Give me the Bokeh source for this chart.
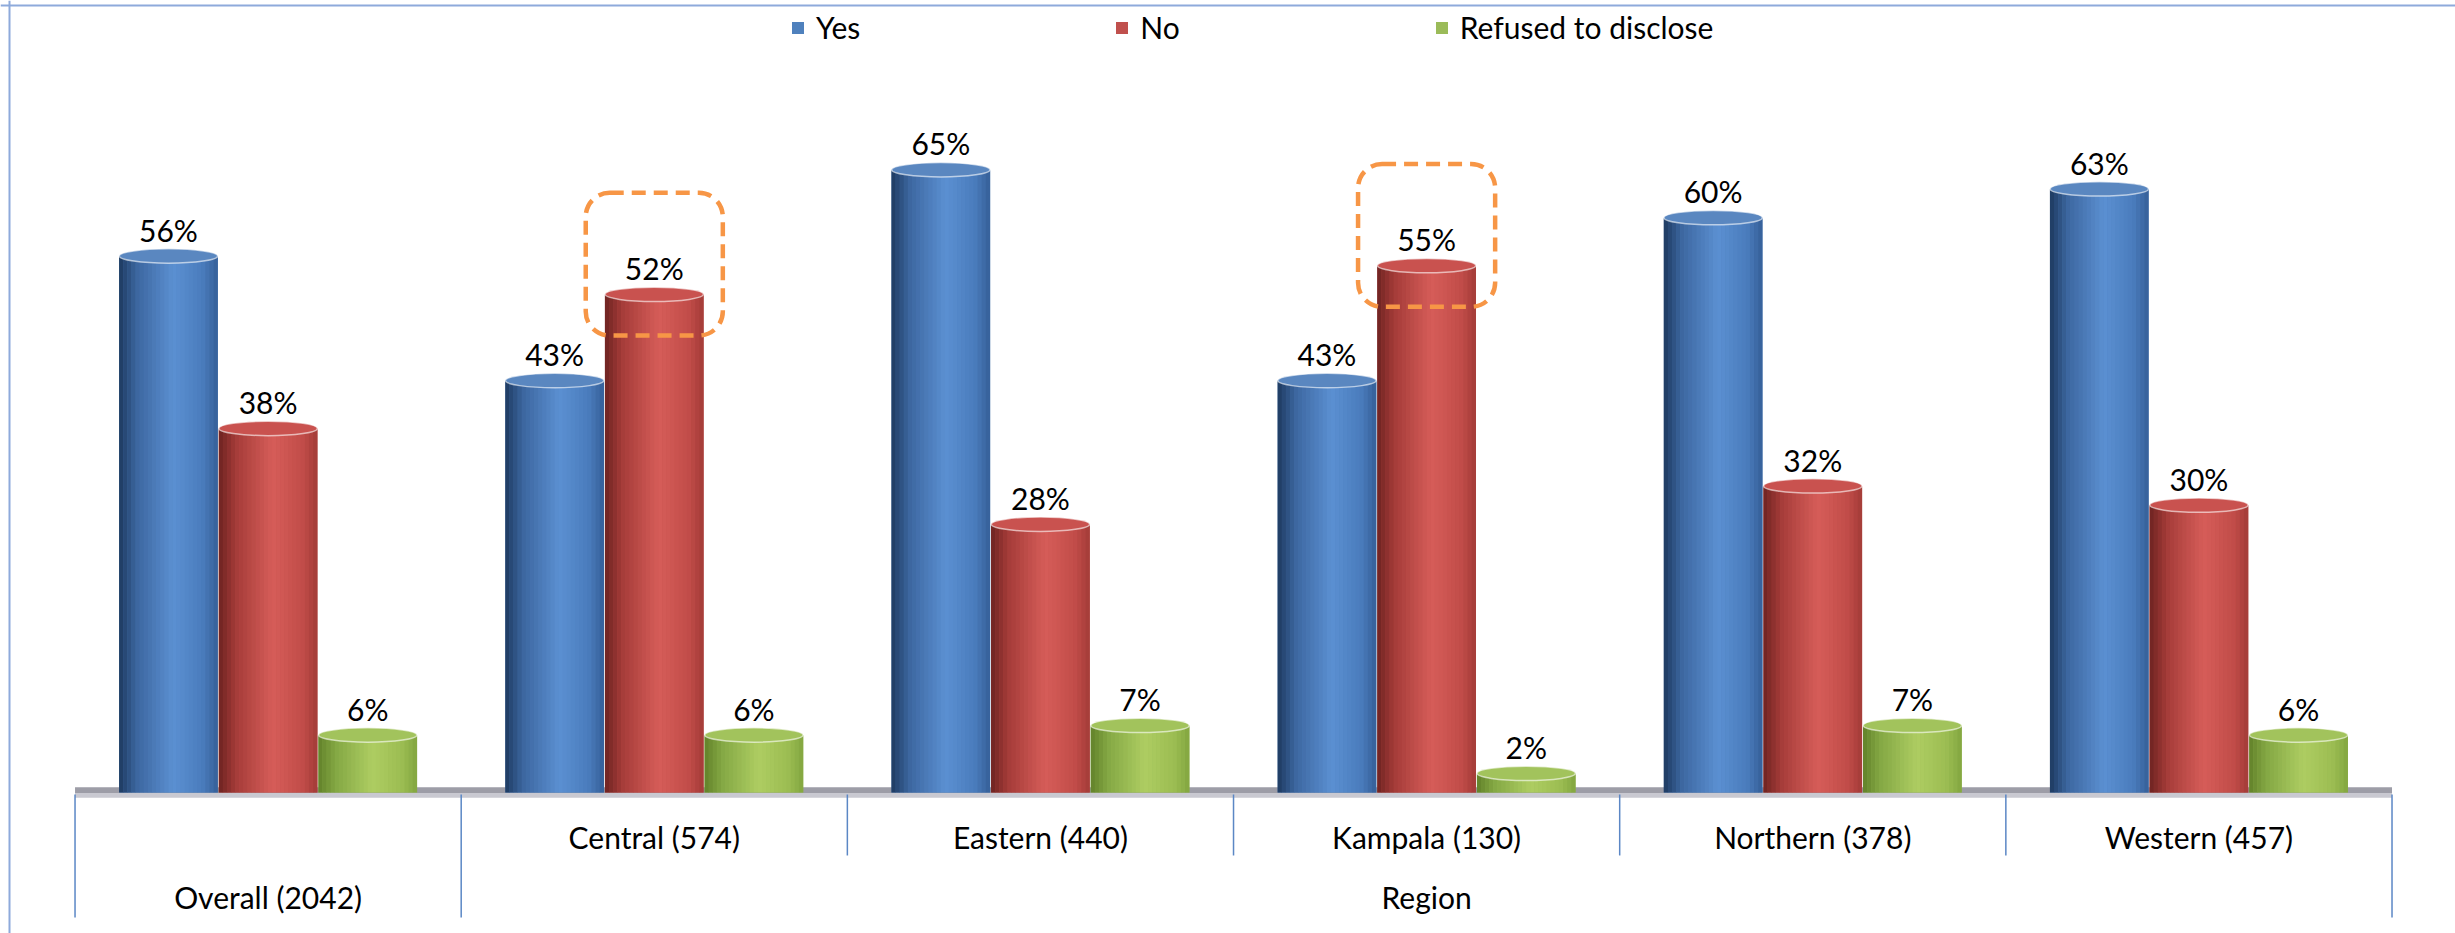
import numpy as np
from bokeh.plotting import figure
from bokeh.models import ColumnDataSource, Legend, LegendItem, Span, Range1d
from bokeh.core.properties import value
from bokeh.embed import file_html
from bokeh.resources import INLINE

# ---------------- data ----------------
overall_label = "Overall (2042)"
region_labels = ["Central (574)", "Eastern (440)", "Kampala (130)", "Northern (378)", "Western (457)"]
categories = [overall_label] + region_labels
groups = [("Overall (2042)", 1), ("Region", 5)]
series_names = ["Yes", "No", "Refused to disclose"]
yes = [56, 43, 65, 43, 60, 63]
no = [38, 52, 28, 55, 32, 30]
refused = [6, 6, 7, 2, 7, 6]

# ---------------- style ----------------
FONT = "Lato"
FS = "30px"
base_colors = ["#4f81bd", "#c0504d", "#9bbb59"]
grad_stops = [
    [(0.0, "#1e3a60"), (0.18, "#3c669f"), (0.55, "#5b90d2"), (0.85, "#4a7cbc"), (1.0, "#355f98")],
    [(0.0, "#6e2321"), (0.18, "#a53c39"), (0.55, "#d65d59"), (0.85, "#c24d49"), (1.0, "#a33b38")],
    [(0.0, "#62822a"), (0.18, "#84a844"), (0.55, "#aecd62"), (0.85, "#9cbd52"), (1.0, "#83a640")],
]
cap_colors = ["#5a87c0", "#c9524f", "#a2c35c"]

W, H = 2455, 933
x0, x1 = -0.693, 5.6644
y0, y1 = -14.72, 82.67
px_x = W / (x1 - x0)
px_y = H / (y1 - y0)
Y0 = 792  # page pixel row of the value 0

p = figure(width=W, height=H, output_backend="svg", toolbar_location=None,
           x_range=Range1d(x0, x1), y_range=Range1d(y0, y1),
           x_axis_location=None, y_axis_location=None, title_location=None,
           min_border=0, outline_line_color=None)
p.grid.visible = False
p.background_fill_color = "white"
p.border_fill_color = "white"


def hex2rgb(h):
    h = h.lstrip("#")
    return np.array([int(h[i:i + 2], 16) for i in (0, 2, 4)], dtype=float)


def grad(stops, t):
    for (ta, ca), (tb, cb) in zip(stops[:-1], stops[1:]):
        if ta <= t <= tb:
            f = (t - ta) / (tb - ta)
            c = hex2rgb(ca) * (1 - f) + hex2rgb(cb) * f
            return "#%02x%02x%02x" % tuple(int(round(v)) for v in c)
    return stops[-1][1]


n = len(categories)
idx = np.arange(n)
offsets = [-0.258, 0.0, 0.258]
bw = 0.255

# floor
p.quad(left=[-0.5], right=[n - 0.5], bottom=[-0.05], top=[0.55], fill_color="#9d9da7", line_color=None)
p.quad(left=[-0.5], right=[n - 0.5], bottom=[-0.55], top=[-0.05], fill_color="#c9c9d1", line_color=None)

legend_items = []
NS = 24
for s, (name, vals) in enumerate(zip(series_names, [yes, no, refused])):
    xs = idx + offsets[s]
    base = p.vbar(x=xs, top=vals, bottom=0, width=bw, fill_color=base_colors[s], line_color=None)
    legend_items.append(LegendItem(label=name, renderers=[base]))
    for k in range(NS):
        t = (k + 0.5) / NS
        p.vbar(x=xs + (t - 0.5) * bw, top=vals, bottom=0, width=bw / NS * 1.08,
               fill_color=grad(grad_stops[s], t), line_color=None)
    # top cap
    p.ellipse(x=xs, y=vals, width=bw, height=1.5, fill_color=cap_colors[s],
              line_color="#ffffff", line_alpha=0.6, line_width=1.5)
    # value labels
    src = ColumnDataSource(dict(x=xs, y=np.array(vals) + 2.75, t=[f"{v}%" for v in vals]))
    p.text(x="x", y="y", text="t", source=src, text_align="center", text_baseline="middle",
           text_font=value(FONT), text_font_size=FS, text_color="#000000")

# highlight boxes where No exceeds Yes
hl = [i for i in range(n) if no[i] > yes[i]]
p.quad(left=[i + offsets[1] - 0.1775 for i in hl], right=[i + offsets[1] + 0.1775 for i in hl],
       bottom=[no[i] - 4.3 for i in hl], top=[no[i] + 10.6 for i in hl],
       fill_color=None, line_color="#f79646", line_width=4.5, line_dash="14 8", border_radius=24)

# category axis dividers and labels
axis_col = "#5b87c5"
boundaries = np.arange(n + 1) - 0.5
outer = {-0.5}
pos = -0.5
for gname, gsize in groups:
    pos += gsize
    outer.add(pos)
y_short = -(855 - Y0) / px_y
y_long = -(917 - Y0) / px_y
y_top_div = -(794 - Y0) / px_y
p.segment(x0=boundaries, x1=boundaries, y0=[y_top_div] * len(boundaries),
          y1=[y_long if b in outer else y_short for b in boundaries],
          line_color=axis_col, line_width=1.5)

inner_src = ColumnDataSource(dict(x=idx[1:], y=[-(837 - Y0) / px_y] * (n - 1), t=region_labels))
p.text(x="x", y="y", text="t", source=inner_src, text_align="center", text_baseline="middle",
       text_font=value(FONT), text_font_size=FS, text_color="#000000")
gx, start = [], 0
for gname, gsize in groups:
    gx.append(start + (gsize - 1) / 2)
    start += gsize
grp_src = ColumnDataSource(dict(x=gx, y=[-(897 - Y0) / px_y] * len(groups), t=[g[0] for g in groups]))
p.text(x="x", y="y", text="t", source=grp_src, text_align="center", text_baseline="middle",
       text_font=value(FONT), text_font_size=FS, text_color="#000000")

# chart border (top, left)
p.add_layout(Span(location=y1 - 5 / px_y, dimension="width", line_color="#8eaadb", line_width=2))
p.add_layout(Span(location=x0 + 9 / px_x, dimension="height", line_color="#8eaadb", line_width=2))

legend = Legend(items=legend_items, orientation="horizontal", location=(790, 888),
                spacing=254, glyph_width=15, glyph_height=15, label_standoff=11,
                label_text_font=FONT, label_text_font_size=FS, label_text_color="#000000",
                padding=0, margin=0, border_line_color=None, background_fill_alpha=0)
p.add_layout(legend)

open("out.html", "w").write(file_html(p, INLINE))
